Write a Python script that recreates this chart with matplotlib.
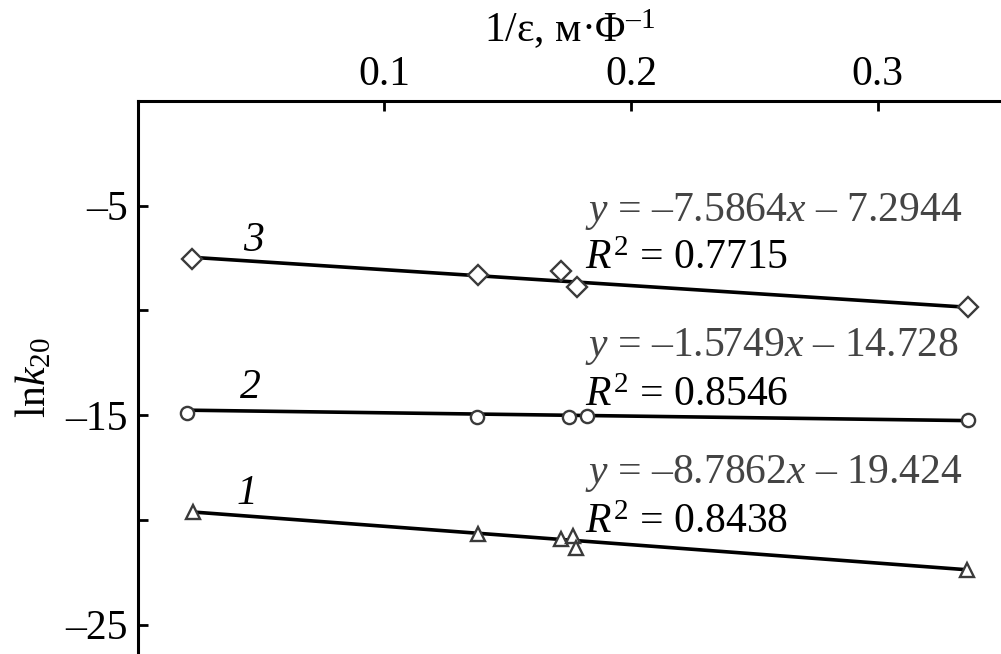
import matplotlib
matplotlib.use('Agg')
import matplotlib.pyplot as plt
import numpy as np

plt.rcParams['font.family'] = ['Liberation Serif', 'DejaVu Serif']
plt.rcParams['mathtext.fontset'] = 'custom'
plt.rcParams['mathtext.rm'] = 'Liberation Serif'
plt.rcParams['mathtext.it'] = 'Liberation Serif:italic'
plt.rcParams['font.size'] = 30

# 1/eps values and ln k20 for the three series
x1 = [0.0225, 0.138, 0.1717, 0.1767, 0.1776, 0.3361]
y1 = [-19.63, -20.69, -20.90, -20.78, -21.32, -22.41]
x2 = [0.0199, 0.1378, 0.1749, 0.1822, 0.3366]
y2 = [-14.88, -15.10, -15.10, -15.05, -15.22]
x3 = [0.0221, 0.138, 0.1717, 0.1781, 0.3366]
y3 = [-7.56, -8.30, -8.10, -8.90, -9.85]

slopes = [-8.7862, -1.5749, -7.5864]
intercepts = [-19.424, -14.728, -7.2944]
r2 = [0.8438, 0.8546, 0.7715]
names = ['1', '2', '3']
markers = ['^', 'o', 'D']

xs = [x1, x2, x3]
ys = [y1, y2, y3]

fig = plt.figure(figsize=(10.01, 6.54), dpi=100)
ax = fig.add_axes([137.5 / 1001, 0, 1 - 137.5 / 1001, 1 - 101 / 654])
ax.set_xlim(0, 0.35)
ax.set_ylim(-26.4, 0)

edge = '#3a3a3a'
msizes = [10.5, 9.5, 10]
for i in range(3):
    xx = np.array([xs[i][0], xs[i][-1]])
    ax.plot(xx, slopes[i] * xx + intercepts[i], color='black', lw=2.6,
            solid_capstyle='butt', zorder=2)
    ax.plot(xs[i], ys[i], linestyle='none', marker=markers[i], ms=msizes[i],
            mfc='white', mec=edge, mew=1.7, zorder=3)

# series labels
lab_pos = [(0.0444, -18.75), (0.0456, -13.7), (0.047, -6.65)]
for (lx, ly), n in zip(lab_pos, names):
    ax.text(lx, ly, n, style='italic', ha='center', va='center')

# equations
eq_x = 0.1814
eq_y = [(-18.26, -20.645), (-12.155, -14.54), (-5.715, -8.005)]
for i in range(3):
    b = -intercepts[i]
    eq = r'$y$ = –' + f'{-slopes[i]:.4f}' + r'$x$ – ' + f'{b:g}'
    ax.text(eq_x, eq_y[i][0], eq, color='#444444', ha='left', va='baseline')
    ax.text(eq_x, eq_y[i][1], r'$R^2$ = ' + f'{r2[i]:.4f}', color='black',
            ha='left', va='baseline')

ax.spines['right'].set_visible(False)
ax.spines['bottom'].set_visible(False)
ax.spines['left'].set_linewidth(2.2)
ax.spines['top'].set_linewidth(2.2)

ax.xaxis.tick_top()
ax.xaxis.set_label_position('top')
ax.set_xticks([0.1, 0.2, 0.3])
ax.set_xticklabels(['0.1', '0.2', '0.3'])
ax.set_yticks([-5, -15, -25])
ax.set_yticklabels(['–5', '–15', '–25'])
ax.set_yticks([-10, -20], minor=True)
ax.tick_params(axis='both', which='both', direction='in', width=2, length=7)
ax.tick_params(axis='x', pad=5)
ax.tick_params(axis='y', pad=7)

ax.set_xlabel('1/ε, м·Φ$^{–1}$', labelpad=10)
ax.set_ylabel(r'ln$k_{20}$', labelpad=8)

fig.savefig('out.png', dpi=100)
